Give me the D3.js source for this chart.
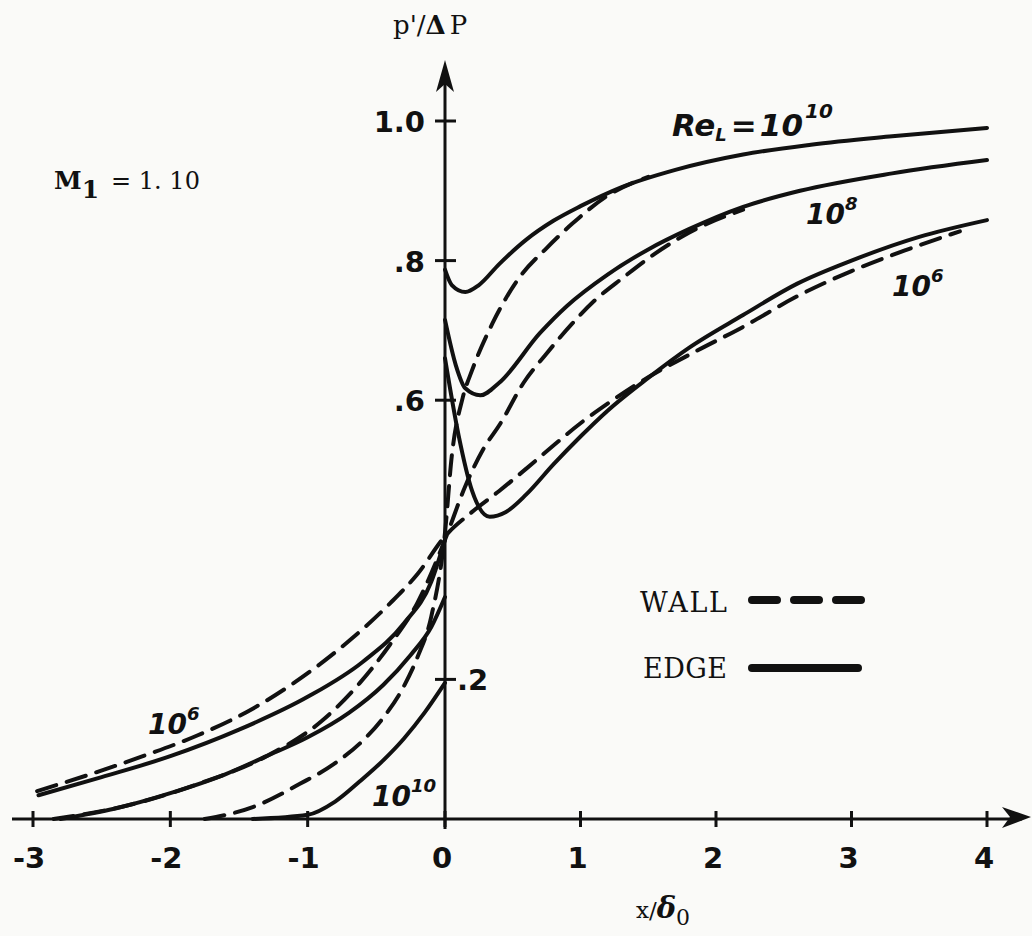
<!DOCTYPE html>
<html><head><meta charset="utf-8">
<script src="https://cdn.jsdelivr.net/npm/d3@7"></script>
<style>
body{margin:0;background:#fafaf8;}
svg{display:block;background:#fafaf8;}
.hand{font-family:"DejaVu Sans",sans-serif;font-weight:bold;fill:#111;}
.ser{font-family:"DejaVu Serif",serif;fill:#111;}
</style>
</head><body>
<svg id="c" width="1032" height="936"></svg>
<script>
// ---- data ----
const xTicks = [-3, -2, -1, 0, 1, 2, 3, 4];
const xTickLabels = ["-3", "-2", "-1", "0", "1", "2", "3", "4"];
const yTicks = [1.0, 0.8, 0.6, 0.2];
const yTickLabels = ["1.0", ".8", ".6", ".2"];

// EDGE (solid) curves: left and right of the origin
const edge10Left = [[-1.4,0],[-1.0,0.006],[-0.8,0.025],[-0.62,0.054],[-0.45,0.084],[-0.3,0.115],[-0.15,0.152],[0,0.195]];
const edge10Right = [[0,0.787],[0.05,0.765],[0.15,0.755],[0.25,0.765],[0.4,0.795],[0.6,0.83],[0.8,0.857],[1.0,0.878],[1.3,0.905],[1.7,0.93],[2.2,0.952],[2.7,0.966],[3.3,0.978],[4.0,0.99]];
const edge8Left = [[-2.8,0],[-2.4,0.015],[-2.0,0.037],[-1.6,0.064],[-1.3,0.09],[-1.0,0.117],[-0.7,0.152],[-0.45,0.192],[-0.25,0.235],[-0.1,0.275],[0,0.318]];
const edge8Right = [[0,0.715],[0.08,0.65],[0.15,0.617],[0.26,0.607],[0.4,0.625],[0.7,0.696],[0.9,0.735],[1.2,0.78],[1.5,0.816],[1.8,0.845],[2.2,0.877],[2.62,0.9],[3.3,0.925],[4.0,0.944]];
const edge6Left = [[-2.96,0.034],[-2.5,0.06],[-2.0,0.09],[-1.5,0.128],[-1.0,0.175],[-0.6,0.225],[-0.3,0.28],[-0.1,0.34],[0,0.40]];
const edge6Right = [[0,0.66],[0.1,0.55],[0.2,0.47],[0.33,0.433],[0.45,0.44],[0.6,0.465],[0.8,0.508],[1.0,0.548],[1.2,0.585],[1.5,0.632],[1.8,0.675],[2.2,0.722],[2.6,0.767],[3.0,0.8],[3.5,0.834],[4.0,0.858]];

// WALL (dashed) curves
const wall10 = [[-1.75,0],[-1.4,0.017],[-1.06,0.05],[-0.8,0.08],[-0.6,0.112],[-0.45,0.145],[-0.3,0.19],[-0.2,0.232],[-0.1,0.29],[0,0.41],[0.05,0.52],[0.13,0.603],[0.2,0.643],[0.35,0.71],[0.55,0.776],[0.75,0.818],[0.94,0.853],[1.2,0.893],[1.5,0.92]];
const wall8 = [[-2.85,0],[-2.3,0.02],[-1.8,0.05],[-1.3,0.09],[-0.9,0.14],[-0.62,0.195],[-0.4,0.25],[-0.2,0.31],[0,0.40],[0.148,0.476],[0.28,0.529],[0.41,0.567],[0.58,0.625],[0.75,0.667],[0.94,0.71],[1.1,0.742],[1.31,0.775],[1.55,0.81],[1.8,0.84],[2.2,0.873]];
const wall6 = [[-2.97,0.04],[-2.6,0.063],[-2.2,0.09],[-1.8,0.12],[-1.4,0.158],[-1.1,0.195],[-0.7,0.255],[-0.4,0.309],[-0.2,0.351],[0,0.405],[0.2,0.44],[0.4,0.47],[0.6,0.502],[0.8,0.535],[1.0,0.567],[1.2,0.595],[1.5,0.633],[1.86,0.671],[2.2,0.705],[2.6,0.749],[3.0,0.785],[3.4,0.815],[3.8,0.842]];

const edgeSeries = [edge10Left, edge10Right, edge8Left, edge8Right, edge6Left, edge6Right];
const wallSeries = [wall10, wall8, wall6];

// ---- chart ----
const svg = d3.select("#c");
const ink = "#111";
const x = d3.scaleLinear().domain([-3, 0, 4]).range([33, 445, 987]);
const y = d3.scaleLinear().domain([0, 1]).range([819, 121]);
const x0 = x(0), y0 = y(0);

const line = d3.line().x(d => x(d[0])).y(d => y(d[1])).curve(d3.curveMonotoneX);

const g = svg.append("g");
g.selectAll("path.wall").data(wallSeries).join("path")
  .attr("class", "wall").attr("d", line)
  .attr("fill", "none").attr("stroke", ink).attr("stroke-width", 4)
  .attr("stroke-dasharray", "20,11").attr("stroke-linecap", "round");
g.selectAll("path.edge").data(edgeSeries).join("path")
  .attr("class", "edge").attr("d", line)
  .attr("fill", "none").attr("stroke", ink).attr("stroke-width", 4)
  .attr("stroke-linecap", "round");

// axes
const ax = svg.append("g").attr("stroke", ink).attr("stroke-width", 3).attr("fill", "none");
ax.append("line").attr("x1", 12).attr("x2", 1022).attr("y1", y0).attr("y2", y0);
ax.append("line").attr("x1", x0).attr("x2", x0).attr("y1", y0 + 10).attr("y2", 70);
svg.append("path").attr("fill", ink)
  .attr("d", `M${x0},60 L${x0+9},92 L${x0},84 L${x0-9},92 Z`);
svg.append("path").attr("fill", ink)
  .attr("d", `M1031,${y0-2} L1002,${y0-12} L1010,${y0-2} L1002,${y0+9} Z`);

// x ticks
ax.selectAll("line.xt").data(xTicks).join("line").attr("class", "xt")
  .attr("x1", d => x(d)).attr("x2", d => x(d)).attr("y1", y0 - 8).attr("y2", y0 + 8);
svg.selectAll("text.xl").data(xTicks).join("text").attr("class", "xl hand")
  .attr("x", d => x(d) - (d < 0 ? 4 : 3)).attr("y", 868)
  .attr("text-anchor", "middle").attr("font-size", 29)
  .text((d, i) => xTickLabels[i]);

// y ticks
ax.selectAll("line.yt").data(yTicks).join("line").attr("class", "yt")
  .attr("x1", x0 - 10).attr("x2", x0 + 11).attr("y1", d => y(d)).attr("y2", d => y(d));
svg.selectAll("text.yl").data(yTicks).join("text").attr("class", "yl hand")
  .attr("x", d => d === 0.2 ? x0 + 12 : x0 - 20)
  .attr("y", d => y(d) + 11)
  .attr("text-anchor", d => d === 0.2 ? "start" : "end")
  .attr("font-size", 29)
  .text((d, i) => yTickLabels[i]);

// axis titles
const yt = svg.append("text").attr("class", "ser").attr("x", 393).attr("y", 34).attr("font-size", 26);
yt.append("tspan").text("p'/");
yt.append("tspan").attr("font-weight", "bold").text("Δ");
yt.append("tspan").attr("dx", 4).text("P");
const xt = svg.append("text").attr("class", "ser").attr("x", 636).attr("y", 918).attr("font-size", 23);
xt.append("tspan").text("x/");
xt.append("tspan").attr("font-weight", "bold").attr("font-style", "italic").attr("font-size", 29).text("δ");
xt.append("tspan").attr("dy", 7).attr("font-size", 22).text("0");

// M1 annotation
const mt = svg.append("text").attr("class", "ser").attr("x", 54).attr("y", 189).attr("font-size", 25).attr("font-weight", "bold");
mt.append("tspan").text("M");
mt.append("tspan").attr("dy", 9).text("1");
mt.append("tspan").attr("dy", -9).attr("dx", 12).attr("font-weight", "normal").attr("font-size", 24).text("= 1. 10");

// curve labels (hand lettered)
function sup(xp, yp, base, exp, fs) {
  const t = svg.append("text").attr("class", "hand").attr("x", xp).attr("y", yp)
    .attr("font-size", fs).attr("font-style", "italic");
  t.append("tspan").text(base);
  t.append("tspan").attr("dy", -fs * 0.5).attr("font-size", fs * 0.65).text(exp);
}
const rt = svg.append("text").attr("class", "hand").attr("x", 672).attr("y", 136)
  .attr("font-size", 31).attr("font-style", "italic");
rt.append("tspan").text("Re");
rt.append("tspan").attr("dy", 5).attr("font-size", 18).text("L");
rt.append("tspan").attr("dy", -5).attr("dx", 4).text("=");
rt.append("tspan").attr("dx", 3).text("10");
rt.append("tspan").attr("dy", -18).attr("dx", 2).attr("font-size", 20).text("10");
sup(806, 224, "10", "8", 28);
sup(892, 296, "10", "6", 28);
sup(148, 734, "10", "6", 28);
sup(372, 806, "10", "10", 28);

// legend
svg.append("text").attr("class", "ser").attr("x", 640).attr("y", 612).attr("font-size", 27)
  .attr("textLength", 87).text("WALL");
svg.append("text").attr("class", "ser").attr("x", 643).attr("y", 678).attr("font-size", 27)
  .attr("textLength", 84).text("EDGE");
svg.append("line").attr("x1", 752).attr("x2", 861).attr("y1", 600).attr("y2", 600)
  .attr("stroke", ink).attr("stroke-width", 8).attr("stroke-linecap", "round")
  .attr("stroke-dasharray", "25,17");
svg.append("line").attr("x1", 752).attr("x2", 858).attr("y1", 668).attr("y2", 668)
  .attr("stroke", ink).attr("stroke-width", 8).attr("stroke-linecap", "round");
</script>
</body></html>
